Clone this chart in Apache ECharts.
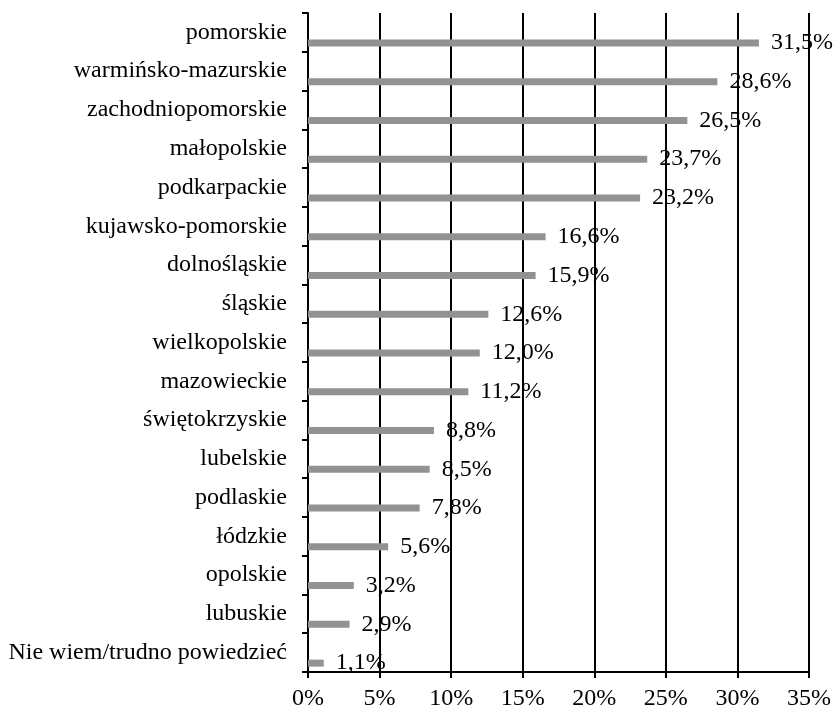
<!DOCTYPE html>
<html>
<head>
<meta charset="utf-8">
<script src="https://cdn.jsdelivr.net/npm/echarts@6/dist/echarts.min.js"></script>
<style>
  html, body { margin: 0; padding: 0; background: #fff; }
  #chart { width: 837px; height: 711px; }
</style>
</head>
<body>
<div id="chart"></div>
<script>
// Regions, listed top to bottom
const regions = [
  'pomorskie', 'warmińsko-mazurskie', 'zachodniopomorskie', 'małopolskie',
  'podkarpackie', 'kujawsko-pomorskie', 'dolnośląskie', 'śląskie',
  'wielkopolskie', 'mazowieckie', 'świętokrzyskie', 'lubelskie',
  'podlaskie', 'łódzkie', 'opolskie', 'lubuskie', 'Nie wiem/trudno powiedzieć'
];
// Share of answers, percent
const shares = [
  31.5, 28.6, 26.5, 23.7, 23.2, 16.6, 15.9, 12.6,
  12.0, 11.2, 8.8, 8.5, 7.8, 5.6, 3.2, 2.9, 1.1
];
// Value axis ticks
const axisMin = 0;
const axisMax = 35;
const axisStep = 5;

const FONT = 'Liberation Serif';
const FONT_SIZE = 24;

const chart = echarts.init(document.getElementById('chart'), null, { renderer: 'canvas' });

chart.setOption({
  animation: false,
  backgroundColor: '#ffffff',
  grid: { left: 308, top: 13, right: 28, bottom: 37, containLabel: false },
  xAxis: {
    type: 'value',
    min: axisMin,
    max: axisMax,
    interval: axisStep,
    axisLine: { show: true, lineStyle: { color: '#000', width: 2 } },
    axisTick: { show: true, length: 6, lineStyle: { color: '#000', width: 2 } },
    axisLabel: {
      margin: 15,
      color: '#000',
      fontFamily: FONT,
      fontSize: FONT_SIZE,
      formatter: v => v + '%'
    },
    splitLine: { show: true, lineStyle: { color: '#000', width: 2 } }
  },
  yAxis: {
    type: 'category',
    inverse: true,
    data: regions,
    axisLine: { show: true, lineStyle: { color: '#000', width: 2 } },
    axisTick: { show: true, length: 6, lineStyle: { color: '#000', width: 2 } },
    axisLabel: {
      margin: 21,
      color: '#000',
      fontFamily: FONT,
      fontSize: FONT_SIZE
    },
    splitLine: { show: false }
  },
  series: [
    {
      // empty slot that pushes the visible bar below the band centre
      type: 'bar',
      silent: true,
      barWidth: 7,
      barGap: '200%',
      data: regions.map(() => null),
      itemStyle: { color: 'rgba(0,0,0,0)' }
    },
    {
      type: 'bar',
      barWidth: 7,
      barGap: '200%',
      data: shares,
      itemStyle: { color: '#929292' },
      label: {
        show: true,
        position: 'right',
        distance: 12,
        color: '#000',
        fontFamily: FONT,
        fontSize: FONT_SIZE,
        formatter: p => p.value.toFixed(1).replace('.', ',') + '%'
      }
    }
  ]
});
</script>
</body>
</html>
